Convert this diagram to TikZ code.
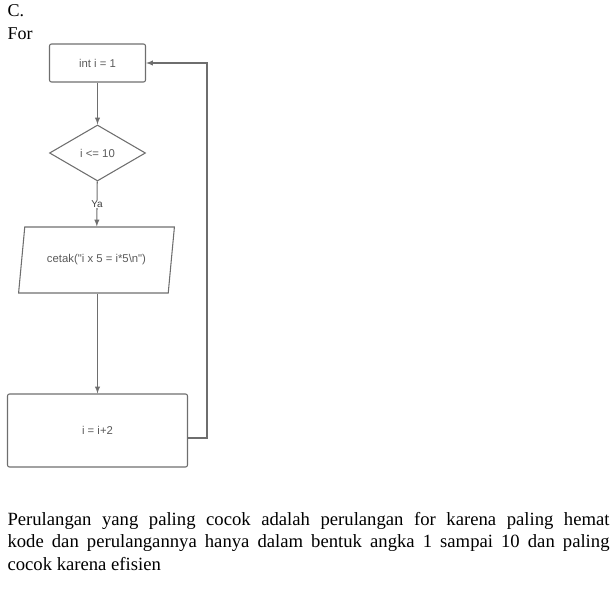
\documentclass[tikz,border=0pt]{standalone}
\usepackage{fontspec}
\setmainfont{Liberation Serif}
\newfontfamily\flowfont{Liberation Sans}
\usetikzlibrary{shapes.geometric}
\definecolor{flowline}{HTML}{6E6E6E}
\definecolor{flowtext}{HTML}{5A5A5A}

\begin{document}
\begin{tikzpicture}[x=0.75pt,y=-0.75pt,
line width=0.8pt,
box/.style ={draw=flowline, rounded corners=1.5pt, inner sep=0pt,
font=\flowfont\fontsize{8.5}{10}\selectfont, text=flowtext},
test/.style ={draw=flowline, diamond, aspect=1.71, inner sep=0pt,
minimum width=72pt, minimum height=42pt,
font=\flowfont\fontsize{8.5}{10}\selectfont, text=flowtext},
io/.style ={draw=flowline, trapezium, trapezium left angle=68,
trapezium right angle=112, trapezium stretches=true, inner sep=0pt,
minimum width=117.75pt, minimum height=49.5pt,
font=\flowfont\fontsize{8.5}{10}\selectfont, text=flowtext},
flow/.style ={draw=flowline, -latex}]
\useasboundingbox (0,0) rectangle (614,591);
\node[anchor=base west, inner sep=0pt, font=\fontsize{13.5}{16}\selectfont] (hc) at (7,16.5) {C.};
\node[anchor=base west, inner sep=0pt, font=\fontsize{13.5}{16}\selectfont] (hfor) at (7,39.5) {For};
\node[box, minimum width=72pt, minimum height=28.5pt] (init) at (97.5,63) {int i = 1};
\node[test] (cond) at (97.5,153) {i <= 10};
\node[io] (print) at (96.5,260) {cetak("i x 5 = i*5\textbackslash n")};
\node[box, minimum width=135pt, minimum height=54.75pt] (step2) at (97.5,430.5) {i = i+2};
\coordinate (loopy) at (207,438);
\path[flow] (init) -- (cond);
\path[flow] (cond) -- node[fill=white, inner sep=0.5pt,
font=\flowfont\fontsize{7.5}{8}\selectfont, text=darkgray] {Ya} (print);
\path[flow] (print.south -| step2) -- (step2);
\path[flow] (step2.east |- loopy) -- (loopy) |- (init.east);
\node[anchor=north west, inner sep=0pt, text width=451.5pt, align=justify,
font=\fontsize{14}{16.9}\selectfont] (note) at (7,511.5)
{Perulangan yang paling cocok adalah perulangan for karena paling hemat\linebreak
kode dan perulangannya hanya dalam bentuk angka 1 sampai 10 dan paling\linebreak
cocok karena efisien};
\end{tikzpicture}
\end{document}
